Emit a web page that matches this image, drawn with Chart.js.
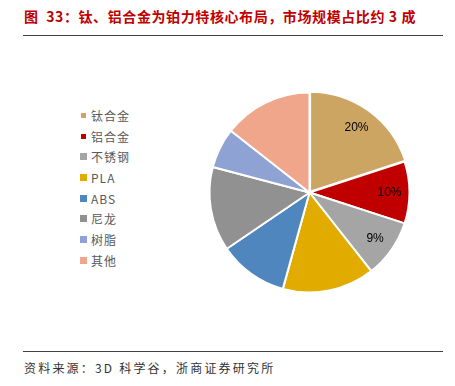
<!DOCTYPE html>
<html>
<head>
<meta charset="utf-8">
<script src="https://cdn.jsdelivr.net/npm/chart.js@4"></script>
<style>
  body { margin: 0; width: 455px; height: 386px; background: #fff; position: relative; overflow: hidden;
         font-family: "Noto Sans CJK SC", "Noto Sans", sans-serif; }
  #title { position: absolute; left: 24px; top: 6px; font-size: 14px; font-weight: bold; color: #C00000; white-space: pre; letter-spacing: 0.6px; }
  .rule { position: absolute; left: 23px; width: 420px; height: 1px; background: #404040; }
  #source { position: absolute; left: 24px; top: 359px; font-size: 12px; color: #333; letter-spacing: 2.2px; white-space: pre; }
  #legend { position: absolute; left: 80px; top: 105px; }
  .item { height: 20.7px; display: flex; align-items: center; font-size: 12px; color: #595959; letter-spacing: 1px; }
  .box { width: 7px; height: 7px; margin-right: 4px; }
  #wrap { position: absolute; left: 0; top: 40px; width: 455px; height: 305px; }
</style>
</head>
<body>
<div id="title">图  33：钛、铝合金为铂力特核心布局，市场规模占比约 3 成</div>
<div class="rule" style="top:35px"></div>
<div id="legend"></div>
<div id="wrap"><canvas id="graph1"></canvas></div>
<div class="rule" style="top:351px"></div>
<div id="source">资料来源：3D 科学谷，浙商证券研究所</div>
<script>
// 材料占比
const materials = ['钛合金', '铝合金', '不锈钢', 'PLA', 'ABS', '尼龙', '树脂', '其他'];
const shares = [20, 10, 9.4, 14.9, 11.2, 13.6, 6.5, 14.4];
const colors = ['#CDA563', '#C00000', '#A5A5A5', '#E1AB00', '#4F86BD', '#919191', '#8FA2D4', '#F0A68A'];
const labelled = 3; // 只标前三个的百分比

// legend html
const legendEl = document.getElementById('legend');
materials.forEach((m, i) => {
    const small = i < 2;
    legendEl.innerHTML += '<div class="item"><span class="box" style="background:' + colors[i] +
        (small ? ';width:5px;height:5px;margin-left:1px;margin-right:5px' : '') + '"></span>' + m + '</div>';
});

const pctLabels = {
    id: 'pctLabels',
    afterDatasetsDraw(chart) {
        const ctx = chart.ctx;
        const total = shares.reduce((a, b) => a + b, 0);
        const arcs = chart.getDatasetMeta(0).data;
        ctx.save();
        ctx.font = '12px "Liberation Sans", Arial, sans-serif';
        ctx.fillStyle = '#000';
        ctx.textAlign = 'center';
        ctx.textBaseline = 'middle';
        for (let i = 0; i < labelled; i++) {
            const a = arcs[i];
            const mid = (a.startAngle + a.endAngle) / 2;
            const r = a.outerRadius * 0.8;
            ctx.fillText(Math.round(shares[i] / total * 100) + '%', a.x + Math.cos(mid) * r, a.y + Math.sin(mid) * r);
        }
        ctx.restore();
    }
};

const chart = new Chart(document.getElementById('graph1'), {
    type: 'pie',
    data: {
        labels: materials,
        datasets: [{
            data: shares,
            backgroundColor: colors,
            borderColor: '#fff',
            borderWidth: 2,
            offset: [4, 0, 0, 0, 0, 0, 0, 0],
        }]
    },
    options: {
        responsive: true,
        maintainAspectRatio: false,
        animation: false,
        radius: 100,
        layout: { padding: { left: 209, right: 45, top: 53, bottom: 53 } },
        plugins: {
            legend: { display: false },
            tooltip: { enabled: false }
        }
    },
    plugins: [pctLabels]
});
</script>
</body>
</html>
